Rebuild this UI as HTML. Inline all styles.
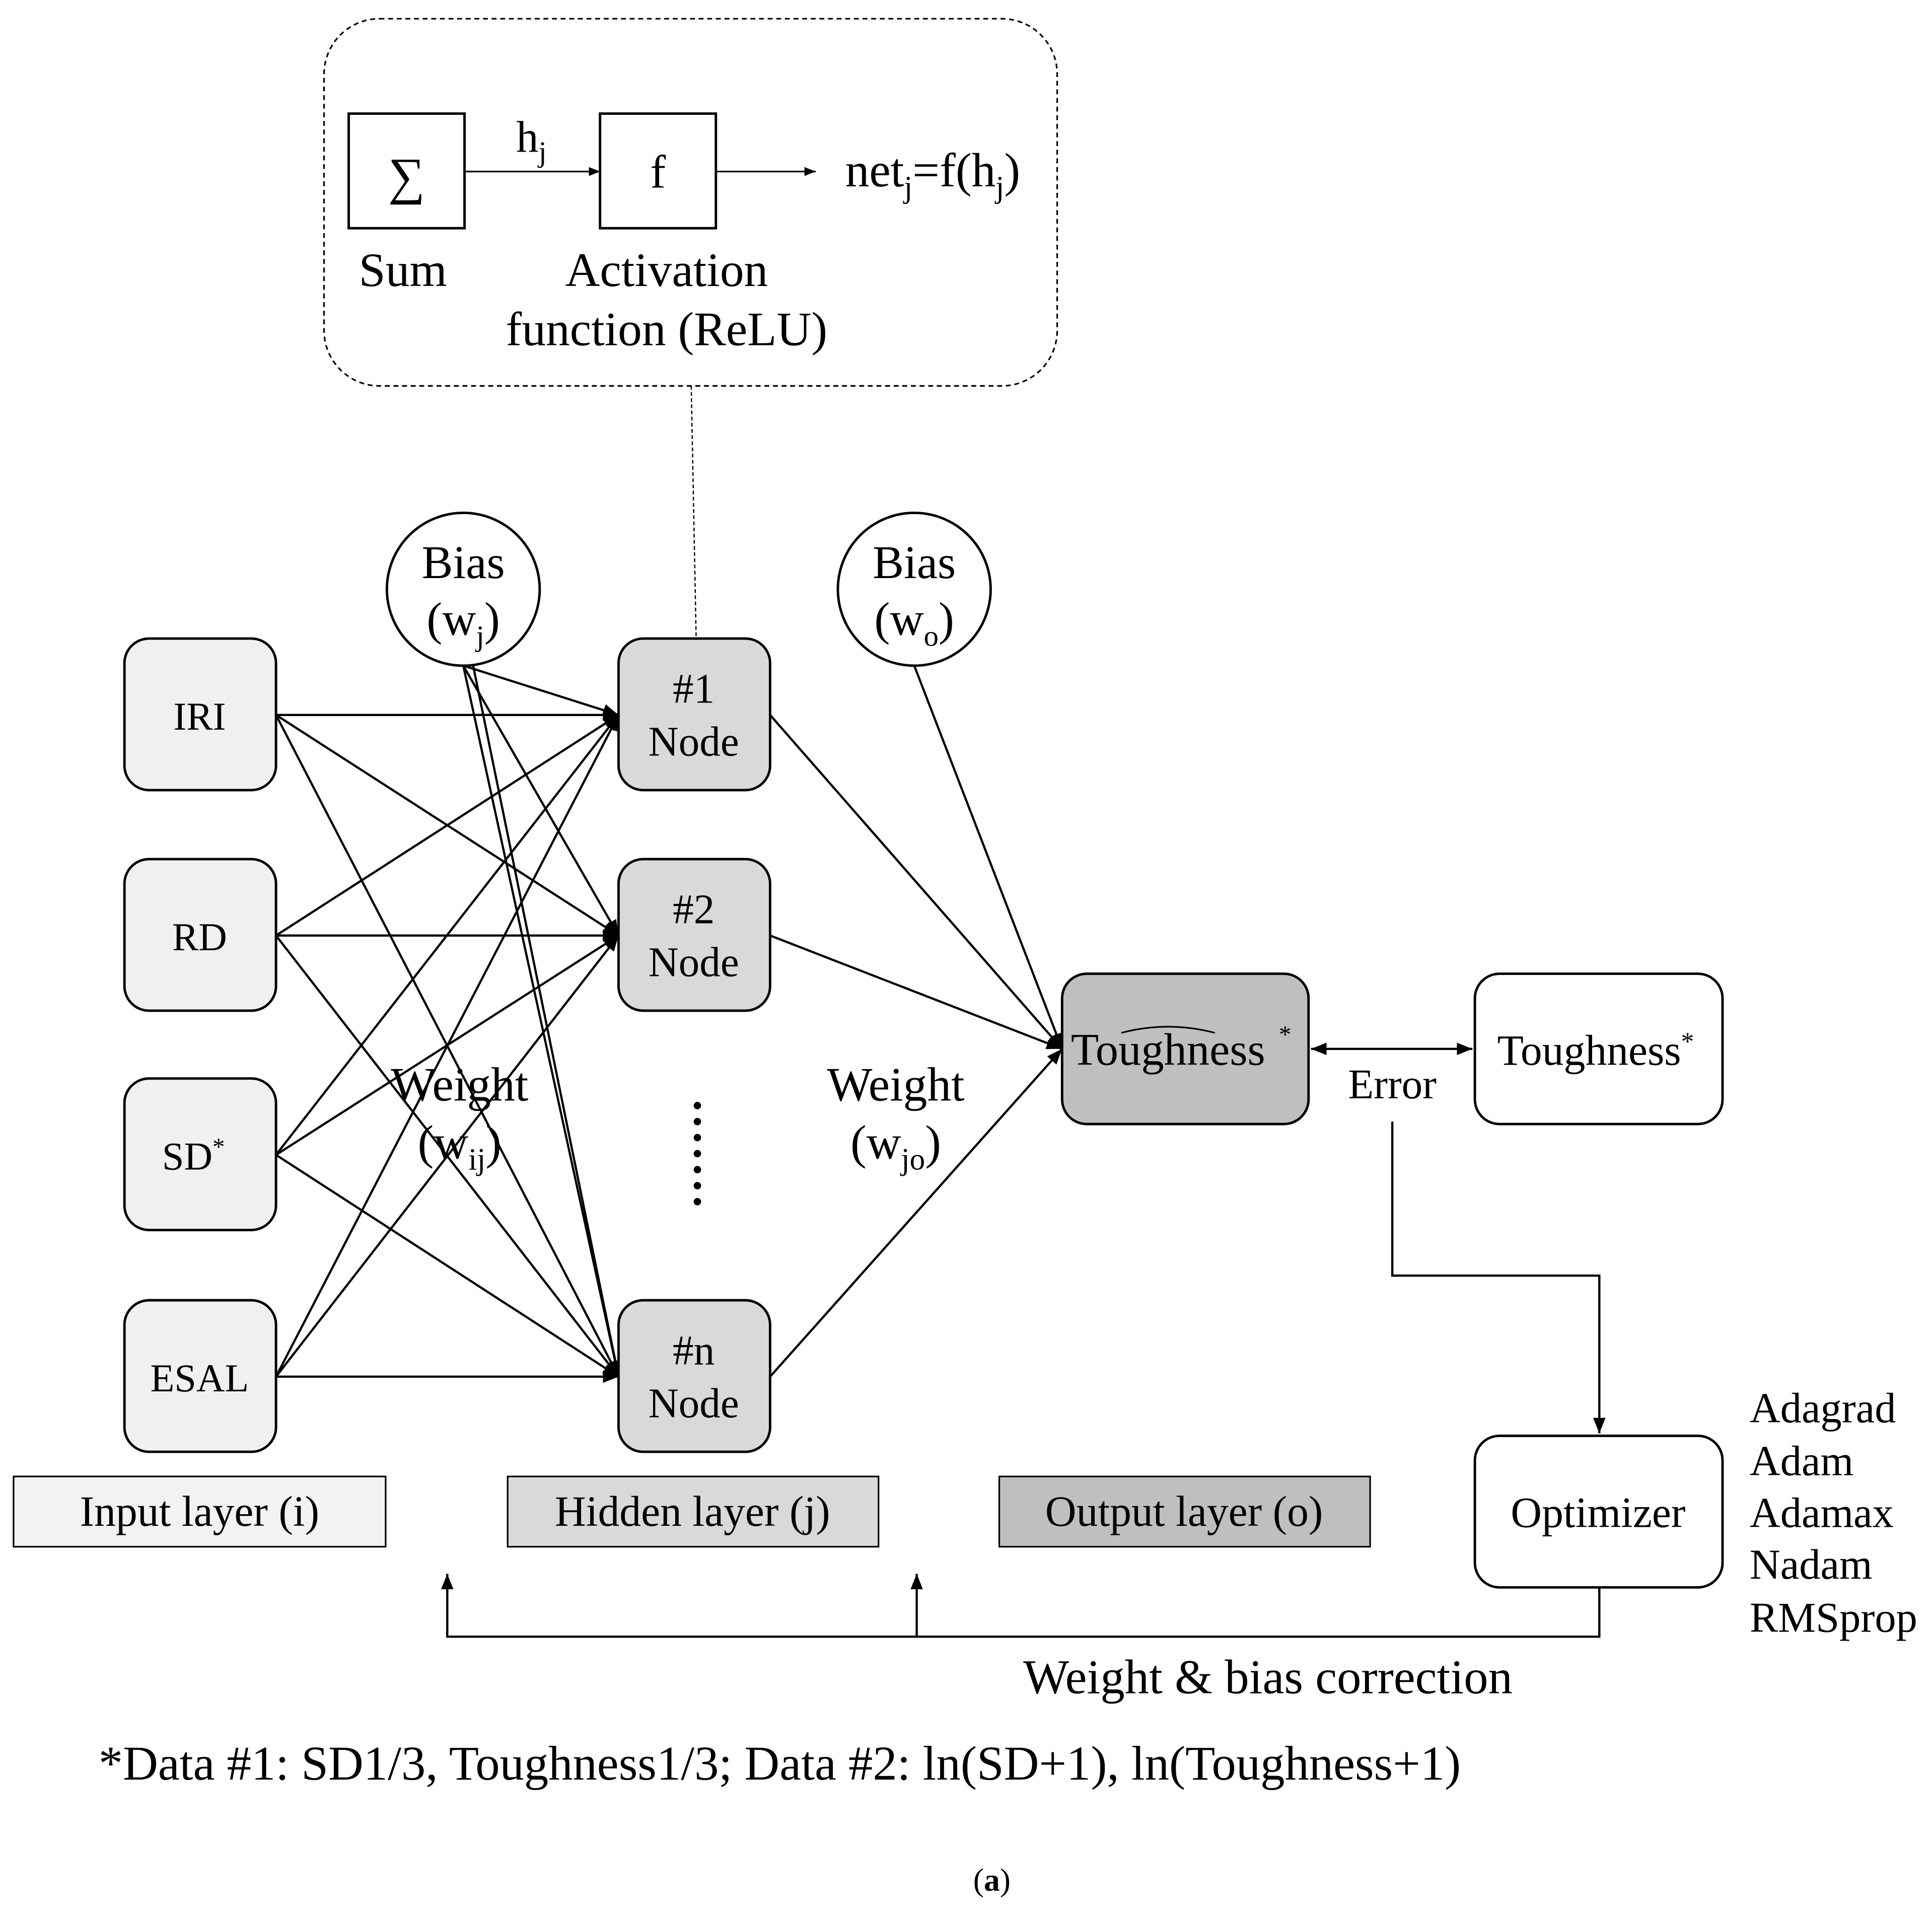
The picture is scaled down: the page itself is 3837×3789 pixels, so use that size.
<!DOCTYPE html>
<html><head><meta charset="utf-8"><style>html,body{margin:0;padding:0;background:#fff}svg{display:block}</style></head><body>
<svg width="3837" height="3789" viewBox="0 0 1568 1548" xmlns="http://www.w3.org/2000/svg" font-family="Liberation Serif, serif" font-size="34">
<defs>
<marker id="a" viewBox="0 0 10 10" refX="10" refY="5" markerWidth="7" markerHeight="7" orient="auto-start-reverse"><path d="M0,1 L10,5 L0,9 z" fill="#000"/></marker>
</defs>
<rect x="0" y="0" width="1568" height="1548" fill="#fff"/>
<rect x="263" y="15" width="595" height="298" rx="45" fill="none" stroke="#000" stroke-width="1.3" stroke-dasharray="4,3"/>
<rect x="283" y="92" width="94" height="93" fill="#fff" stroke="#000" stroke-width="2"/>
<text x="330" y="157" text-anchor="middle" font-size="42">∑</text>
<rect x="487" y="92" width="94" height="93" fill="#fff" stroke="#000" stroke-width="2"/>
<text x="534" y="152" text-anchor="middle" font-size="38">f</text>
<line x1="377" y1="139" x2="487" y2="139" stroke="#000" stroke-width="1.3" marker-end="url(#a)"/>
<text x="419" y="123" font-size="36">h<tspan font-size="24" dy="8">j</tspan></text>
<line x1="581" y1="139" x2="662" y2="139" stroke="#000" stroke-width="1.3" marker-end="url(#a)"/>
<text x="686" y="151" font-size="39">net<tspan font-size="25" dy="9">j</tspan><tspan dy="-9">=f(h</tspan><tspan font-size="25" dy="9">j</tspan><tspan dy="-9">)</tspan></text>
<text x="327" y="232" text-anchor="middle" font-size="39">Sum</text>
<text x="541" y="232" text-anchor="middle" font-size="39">Activation</text>
<text x="541" y="280" text-anchor="middle" font-size="39">function (ReLU)</text>
<line x1="561" y1="313" x2="565" y2="518" stroke="#000" stroke-width="1" stroke-dasharray="3,2"/>
<g stroke="#000" stroke-width="1.8" marker-end="url(#a)">
<line x1="224" y1="580" x2="502" y2="580"/><line x1="224" y1="580" x2="502" y2="759"/><line x1="224" y1="580" x2="502" y2="1117"/>
<line x1="224" y1="759" x2="502" y2="580"/><line x1="224" y1="759" x2="502" y2="759"/><line x1="224" y1="759" x2="502" y2="1117"/>
<line x1="224" y1="937" x2="502" y2="580"/><line x1="224" y1="937" x2="502" y2="759"/><line x1="224" y1="937" x2="502" y2="1117"/>
<line x1="224" y1="1117" x2="502" y2="580"/><line x1="224" y1="1117" x2="502" y2="759"/><line x1="224" y1="1117" x2="502" y2="1117"/>
<line x1="376" y1="540" x2="502" y2="580"/><line x1="376" y1="540" x2="502" y2="759"/><line x1="376" y1="540" x2="502" y2="1117"/>
<line x1="625" y1="580" x2="862" y2="851"/><line x1="625" y1="759" x2="862" y2="851"/><line x1="625" y1="1117" x2="862" y2="851"/>
<line x1="742" y1="540" x2="862" y2="851"/>
</g>
<line x1="384" y1="540" x2="502" y2="1117" stroke="#000" stroke-width="1.8"/>
<text x="373" y="893" text-anchor="middle" font-size="39">Weight</text>
<text x="373" y="940" text-anchor="middle" font-size="39">(w<tspan font-size="25" dy="9">ij</tspan><tspan dy="-9">)</tspan></text>
<text x="727" y="893" text-anchor="middle" font-size="39">Weight</text>
<text x="727" y="940" text-anchor="middle" font-size="39">(w<tspan font-size="25" dy="9">jo</tspan><tspan dy="-9">)</tspan></text>
<g fill="#000"><circle cx="566" cy="897" r="3"/><circle cx="566" cy="910" r="3"/><circle cx="566" cy="923" r="3"/><circle cx="566" cy="936" r="3"/><circle cx="566" cy="949" r="3"/><circle cx="566" cy="962" r="3"/><circle cx="566" cy="975" r="3"/></g>
<circle cx="376" cy="478" r="62" fill="#fff" stroke="#000" stroke-width="2"/>
<text x="376" y="469" text-anchor="middle" font-size="38">Bias</text>
<text x="376" y="515" text-anchor="middle" font-size="38">(w<tspan font-size="24" dy="9">j</tspan><tspan dy="-9">)</tspan></text>
<circle cx="742" cy="478" r="62" fill="#fff" stroke="#000" stroke-width="2"/>
<text x="742" y="469" text-anchor="middle" font-size="38">Bias</text>
<text x="742" y="515" text-anchor="middle" font-size="38">(w<tspan font-size="24" dy="9">o</tspan><tspan dy="-9">)</tspan></text>
<g fill="#f0f0f0" stroke="#000" stroke-width="2">
<rect x="101" y="518" width="123" height="123" rx="20"/><rect x="101" y="697" width="123" height="123" rx="20"/>
<rect x="101" y="875" width="123" height="123" rx="20"/><rect x="101" y="1055" width="123" height="123" rx="20"/>
</g>
<text x="162" y="592" text-anchor="middle" font-size="32">IRI</text>
<text x="162" y="771" text-anchor="middle" font-size="32">RD</text>
<text x="157" y="949" text-anchor="middle" font-size="32">SD<tspan font-size="20" dy="-12">*</tspan></text>
<text x="162" y="1129" text-anchor="middle" font-size="32">ESAL</text>
<g fill="#d9d9d9" stroke="#000" stroke-width="2">
<rect x="502" y="518" width="123" height="123" rx="20"/><rect x="502" y="697" width="123" height="123" rx="20"/><rect x="502" y="1055" width="123" height="123" rx="20"/>
</g>
<text x="563" y="570" text-anchor="middle">#1</text><text x="563" y="613" text-anchor="middle">Node</text>
<text x="563" y="749" text-anchor="middle">#2</text><text x="563" y="792" text-anchor="middle">Node</text>
<text x="563" y="1107" text-anchor="middle">#n</text><text x="563" y="1150" text-anchor="middle">Node</text>
<rect x="862" y="790" width="200" height="122" rx="20" fill="#bfbfbf" stroke="#000" stroke-width="2"/>
<text x="948" y="864" text-anchor="middle" font-size="37">Toughness</text>
<path d="M910,838 Q948,828 986,838" fill="none" stroke="#000" stroke-width="1.3"/>
<text x="1038" y="846" font-size="20">*</text>
<rect x="1197" y="790" width="201" height="122" rx="20" fill="#fff" stroke="#000" stroke-width="2"/>
<text x="1295" y="864" text-anchor="middle" font-size="35">Toughness<tspan font-size="21" dy="-12">*</tspan></text>
<line x1="1064" y1="851" x2="1195" y2="851" stroke="#000" stroke-width="1.8" marker-start="url(#a)" marker-end="url(#a)"/>
<text x="1130" y="891" text-anchor="middle">Error</text>
<polyline points="1130,910 1130,1035 1298,1035 1298,1163" fill="none" stroke="#000" stroke-width="1.8" marker-end="url(#a)"/>
<rect x="1197" y="1165" width="201" height="123" rx="20" fill="#fff" stroke="#000" stroke-width="2"/>
<text x="1297" y="1239" text-anchor="middle" font-size="35">Optimizer</text>
<text x="1420" y="1154" font-size="34.5">Adagrad</text><text x="1420" y="1197" font-size="34.5">Adam</text><text x="1420" y="1239" font-size="34.5">Adamax</text><text x="1420" y="1281" font-size="34.5">Nadam</text><text x="1420" y="1324" font-size="34.5">RMSprop</text>
<rect x="11" y="1198" width="302" height="57" fill="#f2f2f2" stroke="#000" stroke-width="1.3"/>
<text x="162" y="1238" text-anchor="middle" font-size="35">Input layer (i)</text>
<rect x="412" y="1198" width="301" height="57" fill="#d9d9d9" stroke="#000" stroke-width="1.3"/>
<text x="562" y="1238" text-anchor="middle" font-size="35">Hidden layer (j)</text>
<rect x="811" y="1198" width="301" height="57" fill="#bfbfbf" stroke="#000" stroke-width="1.3"/>
<text x="961" y="1238" text-anchor="middle" font-size="35">Output layer (o)</text>
<polyline points="1298,1288 1298,1328 363,1328 363,1277" fill="none" stroke="#000" stroke-width="1.8" marker-end="url(#a)"/>
<line x1="744" y1="1328" x2="744" y2="1277" stroke="#000" stroke-width="1.8" marker-end="url(#a)"/>
<text x="1029" y="1374" text-anchor="middle" font-size="39.5">Weight &amp; bias correction</text>
<text x="80" y="1444" font-size="39.5">*Data #1: SD1/3, Toughness1/3; Data #2: ln(SD+1), ln(Toughness+1)</text>
<text x="805" y="1534" text-anchor="middle" font-size="26">(<tspan font-weight="bold">a</tspan>)</text>
</svg>
</body></html>
